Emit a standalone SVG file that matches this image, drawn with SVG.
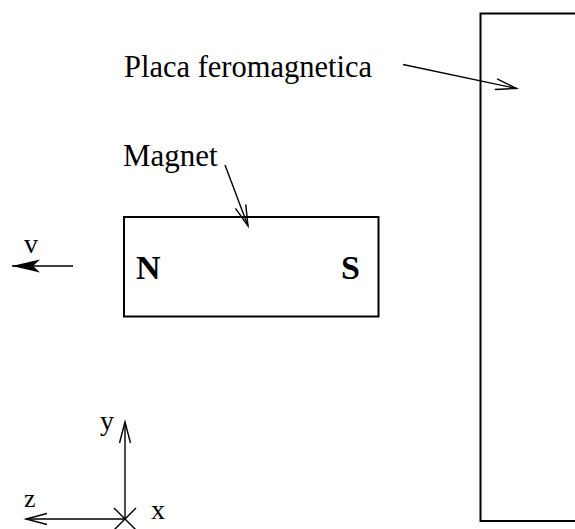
<svg xmlns="http://www.w3.org/2000/svg" width="575" height="529" viewBox="0 0 575 529">
<style>
.t{font-family:"Liberation Serif","Times New Roman",serif;fill:#000}
.b{font-weight:bold}
.ln{stroke:#000;stroke-width:1.4;fill:none}
.box{stroke:#000;stroke-width:2;fill:#fff}
</style>
<defs>
<marker id="open" markerUnits="userSpaceOnUse" markerWidth="24" markerHeight="14" refX="21" refY="6" orient="auto" overflow="visible">
<path d="M0,0.5 L21,6 L0,11.5" fill="none" stroke="#000" stroke-width="1.4"/>
</marker>
<marker id="filled" markerUnits="userSpaceOnUse" markerWidth="30" markerHeight="14" refX="28" refY="6.5" orient="auto" overflow="visible">
<path d="M0,0 L28,6.5 L0,13 L7,6.5 Z" fill="#000"/>
</marker>
</defs>
<rect width="575" height="529" fill="#fff"/>
<g id="plate">
<rect class="box" x="480.5" y="13.5" width="110" height="507.5"/>
</g>
<g id="magnet">
<rect class="box" x="124" y="217" width="254.5" height="99.5"/>
<text class="t b" x="136" y="279" font-size="34">N</text>
<text class="t b" x="341" y="279" font-size="34">S</text>
</g>
<g id="labels">
<text class="t" x="124" y="77" font-size="30.5">Placa feromagnetica</text>
<text class="t" x="123" y="166" font-size="31">Magnet</text>
<text class="t" x="31" y="253" font-size="28" text-anchor="middle">v</text>
<text class="t" x="100" y="430" font-size="28">y</text>
<text class="t" x="24" y="507" font-size="26">z</text>
<text class="t" x="151" y="519" font-size="28">x</text>
</g>
<g id="connectors">
<line class="ln" x1="403" y1="64.5" x2="516.5" y2="88.5" marker-end="url(#open)"/>
<line class="ln" x1="225" y1="165" x2="248" y2="226" marker-end="url(#open)"/>
<line class="ln" x1="73" y1="266" x2="12" y2="266" marker-end="url(#filled)"/>
<line class="ln" x1="125" y1="519" x2="125" y2="422" marker-end="url(#open)"/>
<line class="ln" x1="125" y1="519" x2="26" y2="519" marker-end="url(#open)"/>
<line class="ln" x1="114" y1="508" x2="136" y2="530"/>
<line class="ln" x1="136" y1="508" x2="114" y2="530"/>
</g>
</svg>
